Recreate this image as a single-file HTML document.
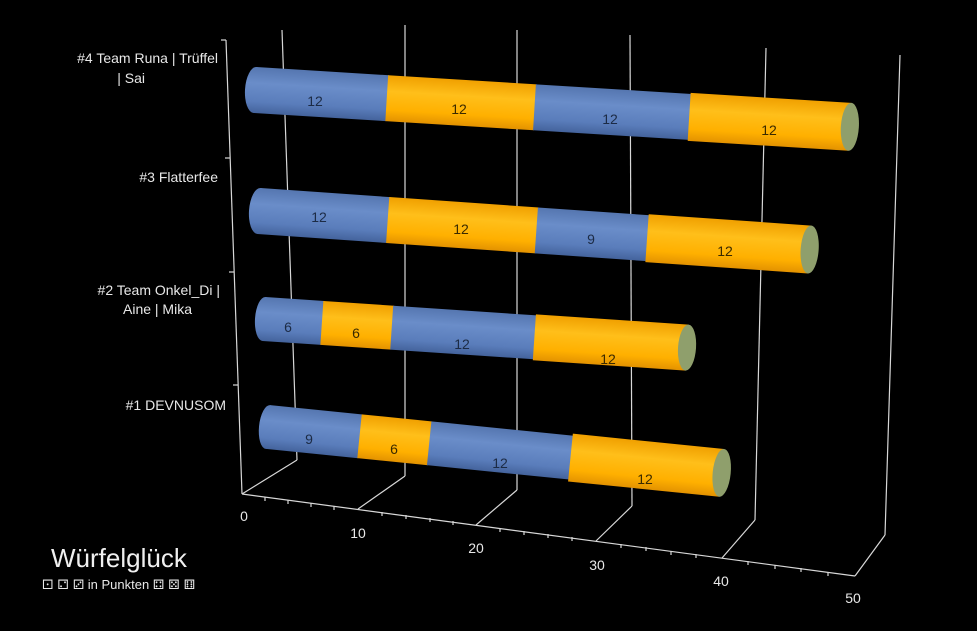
<!DOCTYPE html>
<html><head><meta charset="utf-8"><style>
html,body{margin:0;padding:0;background:#000;width:977px;height:631px;overflow:hidden}
svg{display:block}
text{font-family:"Liberation Sans","DejaVu Sans",sans-serif}
</style></head><body>
<svg width="977" height="631" viewBox="0 0 977 631" xmlns="http://www.w3.org/2000/svg">
<defs>
<linearGradient id="bl" x1="0" y1="0" x2="0" y2="1">
<stop offset="0" stop-color="#5576b0"/><stop offset="0.35" stop-color="#6a8dc9"/><stop offset="0.75" stop-color="#5a7dbb"/><stop offset="1" stop-color="#44639c"/></linearGradient>
<linearGradient id="or" x1="0" y1="0" x2="0" y2="1">
<stop offset="0" stop-color="#f0a000"/><stop offset="0.35" stop-color="#ffbf1a"/><stop offset="0.75" stop-color="#ffb000"/><stop offset="1" stop-color="#e39200"/></linearGradient>
</defs>
<g stroke="#d8d8d8" stroke-width="1.2" fill="none">
<line x1="282" y1="30" x2="297" y2="460"/>
<line x1="405" y1="25" x2="405" y2="476"/>
<line x1="517" y1="30" x2="517" y2="490"/>
<line x1="630" y1="35" x2="632" y2="506"/>
<line x1="766" y1="48" x2="755" y2="520"/>
<line x1="900" y1="55" x2="885" y2="535"/>
<line x1="242" y1="494" x2="297" y2="460"/>
<line x1="358" y1="509" x2="405" y2="476"/>
<line x1="476" y1="525" x2="517" y2="490"/>
<line x1="596" y1="541" x2="632" y2="506"/>
<line x1="722" y1="558" x2="755" y2="520"/>
<line x1="855" y1="576" x2="885" y2="535"/>
<line x1="226" y1="40" x2="242" y2="494"/>
<line x1="221" y1="40" x2="226" y2="40"/>
<line x1="225" y1="158" x2="230" y2="158"/>
<line x1="229" y1="272" x2="234" y2="272"/>
<line x1="233" y1="385" x2="238" y2="385"/>
<line x1="242" y1="494" x2="855" y2="576"/>
</g>
<g stroke="#d8d8d8" stroke-width="1.2">
<line x1="265" y1="497" x2="265" y2="501"/><line x1="288" y1="500" x2="288" y2="504"/><line x1="311" y1="503" x2="311" y2="507"/><line x1="334" y1="506" x2="334" y2="510"/>
<line x1="382" y1="512" x2="382" y2="516"/><line x1="406" y1="515" x2="406" y2="519"/><line x1="430" y1="518" x2="430" y2="522"/><line x1="453" y1="521" x2="453" y2="525"/>
<line x1="500" y1="528" x2="500" y2="532"/><line x1="524" y1="531" x2="524" y2="535"/><line x1="548" y1="534" x2="548" y2="538"/><line x1="572" y1="537" x2="572" y2="541"/>
<line x1="621" y1="544" x2="621" y2="548"/><line x1="646" y1="547" x2="646" y2="551"/><line x1="671" y1="551" x2="671" y2="555"/><line x1="696" y1="554" x2="696" y2="558"/>
<line x1="748" y1="561" x2="748" y2="565"/><line x1="775" y1="565" x2="775" y2="569"/><line x1="801" y1="568" x2="801" y2="572"/><line x1="828" y1="572" x2="828" y2="576"/>
</g>
<g fill="#e8e8e8" font-size="14" text-anchor="middle">
<text x="244" y="521">0</text><text x="358" y="538">10</text><text x="476" y="553">20</text><text x="597" y="570">30</text><text x="721" y="586">40</text><text x="853" y="603">50</text>
</g>
<g fill="#e8e8e8" font-size="14" text-anchor="end">
<text x="218" y="63">#4 Team Runa | Trüffel</text>
<text x="145" y="83">| Sai</text>
<text x="218" y="182">#3 Flatterfee</text>
<text x="220" y="295">#2 Team Onkel_Di |</text>
<text x="192" y="314">Aine | Mika</text>
<text x="226" y="410">#1 DEVNUSOM</text>
</g>

<g transform="translate(255,90) rotate(3.54)">
<ellipse cx="0" cy="0" rx="10" ry="23" fill="url(#bl)"/>
<rect x="0" y="-23" width="133" height="46" fill="url(#bl)"/>
<rect x="132" y="-23" width="149" height="46" fill="url(#or)"/>
<rect x="280" y="-23" width="156" height="46" fill="url(#bl)"/>
<rect x="435" y="-24" width="161" height="48" fill="url(#or)"/>
<ellipse cx="596" cy="0" rx="9" ry="24" fill="#8f9f6c"/>
</g>
<g transform="translate(259,211) rotate(4.0)">
<ellipse cx="0" cy="0" rx="10" ry="23" fill="url(#bl)"/>
<rect x="0" y="-23" width="130" height="46" fill="url(#bl)"/>
<rect x="129" y="-23" width="150" height="46" fill="url(#or)"/>
<rect x="278" y="-23" width="112" height="46" fill="url(#bl)"/>
<rect x="389" y="-24" width="163" height="48" fill="url(#or)"/>
<ellipse cx="552" cy="0" rx="9" ry="24" fill="#8f9f6c"/>
</g>
<g transform="translate(264,319) rotate(3.87)">
<ellipse cx="0" cy="0" rx="9" ry="22" fill="url(#bl)"/>
<rect x="0" y="-22" width="59" height="44" fill="url(#bl)"/>
<rect x="58" y="-22" width="71" height="44" fill="url(#or)"/>
<rect x="128" y="-22" width="144" height="44" fill="url(#bl)"/>
<rect x="271" y="-23" width="153" height="46" fill="url(#or)"/>
<ellipse cx="424" cy="0" rx="9" ry="23" fill="#8f9f6c"/>
</g>
<g transform="translate(268,427) rotate(5.77)">
<ellipse cx="0" cy="0" rx="9" ry="22" fill="url(#bl)"/>
<rect x="0" y="-22" width="93" height="44" fill="url(#bl)"/>
<rect x="92" y="-22" width="71" height="44" fill="url(#or)"/>
<rect x="162" y="-22" width="143" height="44" fill="url(#bl)"/>
<rect x="304" y="-24" width="152" height="48" fill="url(#or)"/>
<ellipse cx="456" cy="0" rx="9" ry="24" fill="#8f9f6c"/>
</g>

<g font-size="14" text-anchor="middle" dominant-baseline="central">
<text x="315" y="101" fill="#1c2b45">12</text><text x="459" y="109" fill="#3a2a00">12</text><text x="610" y="119" fill="#1c2b45">12</text><text x="769" y="130" fill="#3a2a00">12</text>
<text x="319" y="217" fill="#1c2b45">12</text><text x="461" y="229" fill="#3a2a00">12</text><text x="591" y="239" fill="#1c2b45">9</text><text x="725" y="251" fill="#3a2a00">12</text>
<text x="288" y="327" fill="#1c2b45">6</text><text x="356" y="333" fill="#3a2a00">6</text><text x="462" y="344" fill="#1c2b45">12</text><text x="608" y="359" fill="#3a2a00">12</text>
<text x="309" y="439" fill="#1c2b45">9</text><text x="394" y="449" fill="#3a2a00">6</text><text x="500" y="463" fill="#1c2b45">12</text><text x="645" y="479" fill="#3a2a00">12</text>
</g>

<text x="51" y="567" fill="#f0f0f0" font-size="26">Würfelglück</text>
<text x="42" y="589" fill="#e8e8e8" font-size="13"><tspan font-family="DejaVu Sans">⚀ ⚁ ⚂</tspan> in Punkten <tspan font-family="DejaVu Sans">⚃ ⚄ ⚅</tspan></text>
</svg>
</body></html>
